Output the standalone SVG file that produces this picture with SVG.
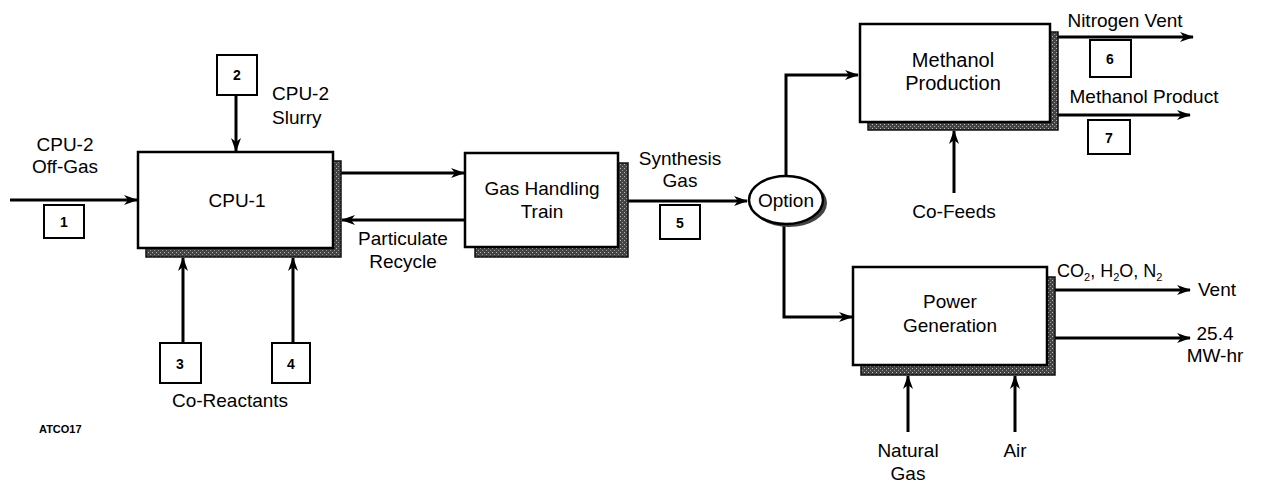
<svg xmlns="http://www.w3.org/2000/svg" width="1272" height="487" viewBox="0 0 1272 487">
<defs>
<marker id="ah" viewBox="0 0 14 10" refX="13" refY="5" markerWidth="14" markerHeight="10" markerUnits="userSpaceOnUse" orient="auto">
<path d="M0,0 L14,5 L0,10 L4,5 Z" fill="#000"/>
</marker>
<pattern id="stip" width="4" height="4" patternUnits="userSpaceOnUse">
<rect width="4" height="4" fill="#444"/>
<rect x="0" y="0" width="1" height="1" fill="#bbb"/>
<rect x="2" y="2" width="1" height="1" fill="#999"/>
</pattern>
</defs>
<style>
.box{fill:#fff;stroke:#000;stroke-width:2.5}
.shadow{fill:url(#stip);stroke:#111;stroke-width:1.5}
.num{fill:#fff;stroke:#000;stroke-width:2}
.arr{fill:none;stroke:#000;stroke-width:3;marker-end:url(#ah)}
text{font-family:"Liberation Sans",Arial,sans-serif;font-size:19px;fill:#000}
.c{text-anchor:middle}
.big{font-size:19px}
.mp{font-size:20px}
.nm{font-size:14px;font-weight:bold;text-anchor:middle}
.sub{font-size:11px}
</style>
<rect width="1272" height="487" fill="#fff"/>

<g id="connectors">
<line class="arr" x1="10" y1="200" x2="137" y2="200"/>
<line class="arr" x1="236" y1="95" x2="236" y2="151"/>
<line class="arr" x1="183" y1="343" x2="183" y2="258"/>
<line class="arr" x1="293" y1="343" x2="293" y2="258"/>
<line class="arr" x1="341" y1="173" x2="464" y2="173"/>
<line class="arr" x1="465" y1="220" x2="342" y2="220"/>
<line class="arr" x1="628" y1="201" x2="747" y2="201"/>
<path class="arr" d="M786,176 V75 H858"/>
<path class="arr" d="M784,224 V317 H852"/>
<line class="arr" x1="1058" y1="37" x2="1193" y2="37"/>
<line class="arr" x1="1058" y1="115" x2="1190" y2="115"/>
<line class="arr" x1="954" y1="193" x2="954" y2="131"/>
<line class="arr" x1="1055" y1="290" x2="1190" y2="290"/>
<line class="arr" x1="1055" y1="338" x2="1190" y2="338"/>
<line class="arr" x1="908" y1="432" x2="908" y2="376"/>
<line class="arr" x1="1015" y1="432" x2="1015" y2="376"/>
</g>

<g id="cpu1">
<rect class="shadow" x="146" y="161" width="195" height="96"/>
<rect class="box" x="138" y="152" width="195" height="96"/>
<text class="c big" x="237" y="207">CPU-1</text>
</g>

<g id="gas-handling">
<rect class="shadow" x="475" y="163" width="153" height="94"/>
<rect class="box" x="465" y="153" width="153" height="94"/>
<text class="c big" x="542" y="195">Gas Handling</text>
<text class="c big" x="542" y="218">Train</text>
</g>

<g id="option">
<ellipse cx="789" cy="203" rx="38" ry="24" fill="#444"/>
<ellipse cx="786" cy="200" rx="37" ry="24" fill="#fff" stroke="#000" stroke-width="2.5"/>
<text class="c" x="786" y="207">Option</text>
</g>

<g id="methanol-production">
<rect class="shadow" x="868" y="32" width="190" height="98"/>
<rect class="box" x="860" y="24" width="190" height="98"/>
<text class="c mp" x="953" y="67">Methanol</text>
<text class="c mp" x="953" y="90">Production</text>
</g>

<g id="power-generation">
<rect class="shadow" x="861" y="277" width="194" height="98"/>
<rect class="box" x="853" y="267" width="194" height="98"/>
<text class="c" x="950" y="308">Power</text>
<text class="c" x="950" y="332">Generation</text>
</g>

<g id="stream-1">
<rect class="num" x="44" y="205" width="40" height="33"/>
<text class="nm" x="64" y="227">1</text>
</g>
<g id="stream-2">
<rect class="num" x="217" y="55" width="40" height="40"/>
<text class="nm" x="237" y="80">2</text>
</g>
<g id="stream-3">
<rect class="num" x="160" y="343" width="41" height="40"/>
<text class="nm" x="180" y="369">3</text>
</g>
<g id="stream-4">
<rect class="num" x="272" y="343" width="38" height="40"/>
<text class="nm" x="291" y="369">4</text>
</g>
<g id="stream-5">
<rect class="num" x="660" y="205" width="40" height="34"/>
<text class="nm" x="680" y="228">5</text>
</g>
<g id="stream-6">
<rect class="num" x="1090" y="40" width="41" height="37"/>
<text class="nm" x="1110" y="64">6</text>
</g>
<g id="stream-7">
<rect class="num" x="1088" y="120" width="42" height="34"/>
<text class="nm" x="1109" y="143">7</text>
</g>

<g id="labels">
<text class="c" x="65" y="151">CPU-2</text>
<text class="c" x="65" y="173">Off-Gas</text>
<text x="272" y="100">CPU-2</text>
<text x="272" y="124">Slurry</text>
<text class="c" x="403" y="245">Particulate</text>
<text class="c" x="403" y="268">Recycle</text>
<text class="c" x="680" y="165">Synthesis</text>
<text class="c" x="680" y="187">Gas</text>
<text class="c" x="1125" y="27">Nitrogen Vent</text>
<text class="c" x="1144" y="103">Methanol Product</text>
<text class="c" x="954" y="218">Co-Feeds</text>
<text x="1057" y="277" style="font-size:18px">CO<tspan class="sub" dy="4">2</tspan><tspan dy="-4">, H</tspan><tspan class="sub" dy="4">2</tspan><tspan dy="-4">O, N</tspan><tspan class="sub" dy="4">2</tspan></text>
<text x="1198" y="296">Vent</text>
<text class="c" x="1215" y="340">25.4</text>
<text class="c" x="1215" y="362">MW-hr</text>
<text class="c" x="908" y="457">Natural</text>
<text class="c" x="908" y="480">Gas</text>
<text class="c" x="1015" y="457">Air</text>
<text class="c big" x="230" y="407">Co-Reactants</text>
<text x="39" y="433" style="font-size:11px;font-weight:bold">ATCO17</text>
</g>
</svg>
